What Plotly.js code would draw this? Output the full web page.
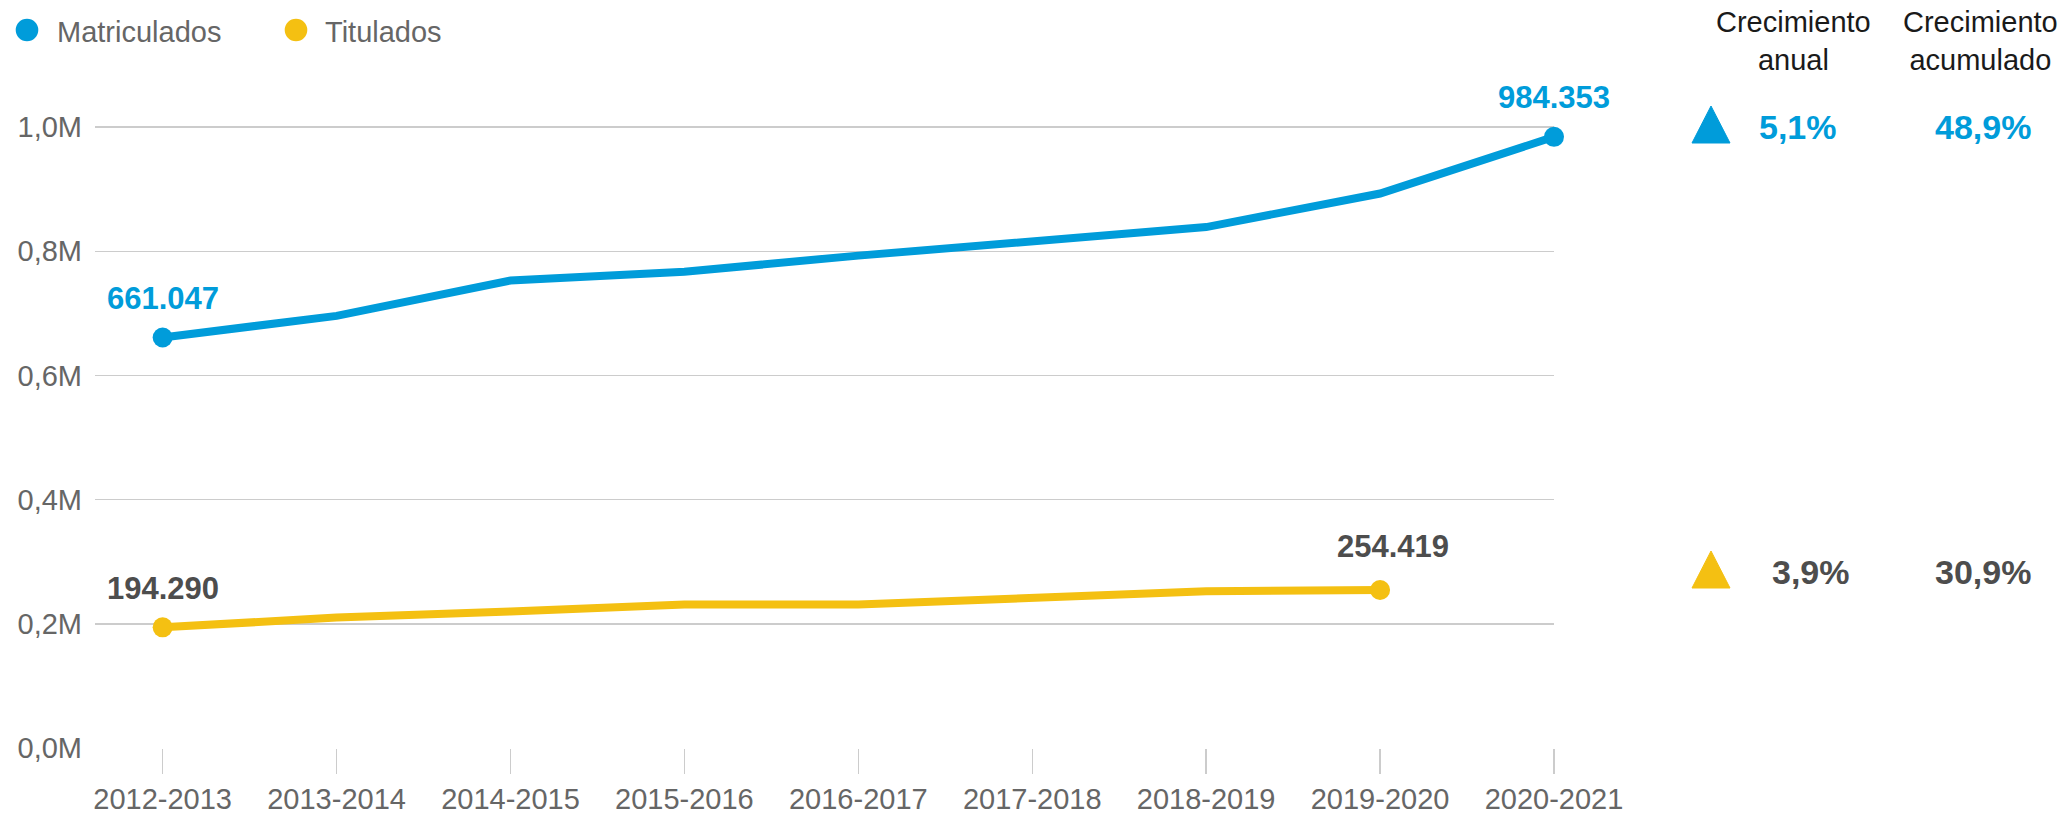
<!DOCTYPE html>
<html>
<head>
<meta charset="utf-8">
<script src="https://cdn.plot.ly/plotly-3.0.1.min.js"></script>
<style>
  html, body { margin: 0; padding: 0; background: #ffffff; }
  #chart { width: 2068px; height: 814px; }
</style>
</head>
<body>
<div id="chart"></div>
<script>
// ---------------- DATA ----------------
const categories = ["2012-2013", "2013-2014", "2014-2015", "2015-2016", "2016-2017",
                    "2017-2018", "2018-2019", "2019-2020", "2020-2021"];
const seriesNames = ["Matriculados", "Titulados"];
const matriculados = [661047, 696000, 753000, 767000, 793000, 816000, 839000, 893000, 984353];
const titulados = [194290, 210000, 220000, 231000, 231000, 242000, 252500, 254419, null];
const yTickVals = [0, 200000, 400000, 600000, 800000, 1000000];
const yTickText = ["0,0M", "0,2M", "0,4M", "0,6M", "0,8M", "1,0M"];
const growthHeaders = ["Crecimiento<br>anual", "Crecimiento<br>acumulado"];
const growthAnnual = ["5,1%", "3,9%"];
const growthCumulative = ["48,9%", "30,9%"];

// ---------------- STYLE ----------------
const W = 2068, H = 814;
const M = { l: 95, r: 514, t: 65, b: 66 };
const PW = W - M.l - M.r, PH = H - M.t - M.b;
const px2x = p => (p - M.l) / PW;
const py2y = p => (H - M.b - p) / PH;

const BLUE = "#009CDA";
const YELLOW = "#F4C012";
const DARK = "#4D4D4D";
const GRAY = "#666666";
const GRID = "#CCCCCC";
const FONT = "Liberation Sans, Arial, sans-serif";

function fmt(v) {
  return String(Math.round(v)).replace(/\B(?=(\d{3})+(?!\d))/g, ".");
}
function firstIdx(arr) { return arr.findIndex(v => v !== null); }
function lastIdx(arr) { let l = -1; arr.forEach((v, i) => { if (v !== null) l = i; }); return l; }
function endSizes(arr, size) {
  const f = firstIdx(arr), l = lastIdx(arr);
  return arr.map((v, i) => (i === f || i === l) ? size : 0);
}

const traces = [
  {
    x: categories, y: matriculados, name: seriesNames[0], type: "scatter", mode: "lines+markers",
    line: { color: BLUE, width: 8 },
    marker: { color: BLUE, size: endSizes(matriculados, 20), opacity: 1, line: { width: 0 } },
    cliponaxis: false, showlegend: false, hoverinfo: "x+y"
  },
  {
    x: categories, y: titulados, name: seriesNames[1], type: "scatter", mode: "lines+markers",
    line: { color: YELLOW, width: 8 },
    marker: { color: YELLOW, size: endSizes(titulados, 20), opacity: 1, line: { width: 0 } },
    cliponaxis: false, showlegend: false, hoverinfo: "x+y", connectgaps: false
  }
];

const annotations = [];
const shapes = [];

// Data labels at first and last points
[[matriculados, BLUE, 0], [titulados, DARK, 1]].forEach(([arr, col, s]) => {
  [firstIdx(arr), lastIdx(arr)].forEach((i, k) => {
    annotations.push({
      x: categories[i], y: arr[i], xref: "x", yref: "y",
      text: "<b>" + fmt(arr[i]) + "</b>", showarrow: false,
      font: { family: FONT, size: 31, color: col },
      xanchor: "center", yanchor: "middle",
      yshift: (s === 1 && k === 1) ? 44 : 39,
      xshift: (s === 1 && k === 1) ? 13 : 0
    });
  });
});

// Custom legend
const legendItems = [
  { name: seriesNames[0], color: BLUE, cx: 27, tx: 55 },
  { name: seriesNames[1], color: YELLOW, cx: 296, tx: 323 }
];
legendItems.forEach(it => {
  const r = 11.3, cy = 30;
  shapes.push({
    type: "circle", xref: "paper", yref: "paper",
    x0: px2x(it.cx - r), x1: px2x(it.cx + r), y0: py2y(cy + r), y1: py2y(cy - r),
    fillcolor: it.color, line: { width: 0 }
  });
  annotations.push({
    xref: "paper", yref: "paper", x: px2x(it.tx), y: py2y(32),
    text: it.name, showarrow: false, xanchor: "left", yanchor: "middle",
    font: { family: FONT, size: 29, color: GRAY }
  });
});

// Growth panel
const colX = [1793, 1981];
growthHeaders.forEach((h, j) => {
  annotations.push({
    xref: "paper", yref: "paper", x: px2x(colX[j]), y: py2y(41),
    text: h, showarrow: false, xanchor: "center", yanchor: "middle",
    font: { family: FONT, size: 29, color: "#1A1A1A" }
  });
});
const rowY = [125, 570];
const rowCol = [BLUE, YELLOW];
const rowTxt = [BLUE, DARK];
const annX = [1798, 1811];
rowY.forEach((yc, r) => {
  const top = yc - 19, bot = yc + 18;
  shapes.push({
    type: "path", xref: "paper", yref: "paper",
    path: `M ${px2x(1692)} ${py2y(bot)} L ${px2x(1730)} ${py2y(bot)} L ${px2x(1711)} ${py2y(top)} Z`,
    fillcolor: rowCol[r], line: { color: rowCol[r], width: 1 }
  });
  annotations.push({
    xref: "paper", yref: "paper", x: px2x(annX[r]), y: py2y(yc + 2),
    text: "<b>" + growthAnnual[r] + "</b>", showarrow: false, xanchor: "center", yanchor: "middle",
    font: { family: FONT, size: 34, color: rowTxt[r] }
  });
  annotations.push({
    xref: "paper", yref: "paper", x: px2x(1983), y: py2y(yc + 2),
    text: "<b>" + growthCumulative[r] + "</b>", showarrow: false, xanchor: "center", yanchor: "middle",
    font: { family: FONT, size: 34, color: rowTxt[r] }
  });
});

const layout = {
  width: W, height: H,
  margin: M,
  paper_bgcolor: "#ffffff", plot_bgcolor: "#ffffff",
  showlegend: false,
  font: { family: FONT, size: 29, color: GRAY },
  xaxis: {
    type: "category", range: [-0.389, categories.length - 1],
    showgrid: false, zeroline: false, showline: false,
    ticks: "outside", ticklen: 25, tickcolor: GRID, tickwidth: 1.5,
    tickfont: { family: FONT, size: 29, color: GRAY },
    fixedrange: true
  },
  yaxis: {
    range: [0, 1100000],
    tickvals: yTickVals, ticktext: yTickText,
    showgrid: true, gridcolor: GRID, gridwidth: 1.5,
    zeroline: false, showline: false, ticks: "",
    ticklabelstandoff: 12,
    tickfont: { family: FONT, size: 29, color: GRAY },
    fixedrange: true
  },
  annotations: annotations,
  shapes: shapes
};

Plotly.newPlot("chart", traces, layout, { displayModeBar: false, staticPlot: true });
</script>
</body>
</html>
